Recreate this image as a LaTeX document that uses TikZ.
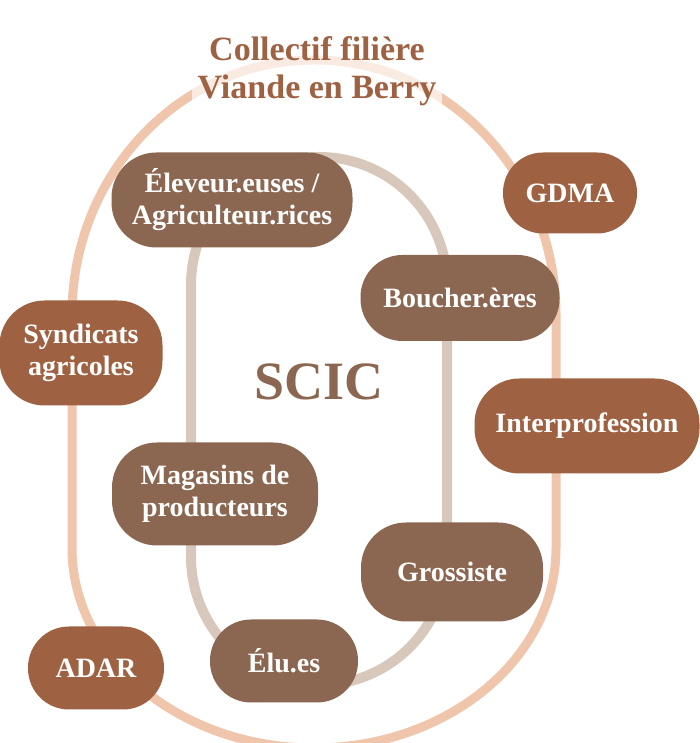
\documentclass[tikz,border=0pt]{standalone}
\usepackage{fontspec}
\setmainfont{Liberation Serif}
\definecolor{brunscic}{HTML}{8B6751}
\definecolor{rouille}{HTML}{9E6243}
\definecolor{anneauext}{HTML}{EFC5AC}
\definecolor{anneauint}{HTML}{D8C8BB}
\begin{document}
\begin{tikzpicture}[x=1pt,y=1pt,
    acteur/.style={rectangle, rounded corners=45pt, text=white, align=center,
        inner sep=0pt, font=\bfseries\fontsize{28}{32}\selectfont},
    interne/.style={acteur, fill=brunscic},
    externe/.style={acteur, fill=rouille}]
    \useasboundingbox (0,0) rectangle (699,743);
    % les deux anneaux
    \draw[anneauext, line width=9pt] (72,428) arc[start angle=180, end angle=0, x radius=242, y radius=255]
        -- (556,195) arc[start angle=0, end angle=-180, x radius=242, y radius=200] -- cycle;
    \draw[anneauint, line width=10pt] (191,458) arc[start angle=180, end angle=0, radius=128]
        -- (447,186) arc[start angle=0, end angle=-180, radius=128] -- cycle;
    \node[text=brunscic, font=\bfseries\fontsize{54}{54}\selectfont] (scic) at (319,361) {SCIC};
    % SCIC
    \node[interne, minimum width=241, minimum height=95] (eleveurs) at (232,543) {Éleveur.euses /\\Agriculteur.rices};
    \node[interne, minimum width=199, minimum height=86, rounded corners=42pt] (bouchers) at (460,445) {Boucher.ères};
    \node[interne, minimum width=206, minimum height=103] (magasins) at (215,249) {Magasins de\\producteurs};
    \node[interne, minimum width=182, minimum height=99] (grossiste) at (452,171) {Grossiste};
    \node[interne, minimum width=148, minimum height=83, rounded corners=41pt] (elus) at (284,82) {Élu.es};
    % collectif
    \node[externe, minimum width=134, minimum height=81, rounded corners=40pt] (gdma) at (570,550) {GDMA};
    \node[externe, minimum width=163, minimum height=105] (syndicats) at (81,390) {Syndicats\\agricoles};
    \node[externe, minimum width=225, minimum height=95] (interpro) at (587,317) {Interprofession};
    \node[externe, minimum width=136, minimum height=83, rounded corners=41pt] (adar) at (96,75) {ADAR};
    \node[fill=white, fill opacity=0.65, text opacity=1, text=rouille, align=center, inner xsep=6pt, inner ysep=4pt,
        font=\bfseries\fontsize{34}{38}\selectfont] (titre) at (317,672) {Collectif filière\\Viande en Berry};
\end{tikzpicture}
\end{document}
